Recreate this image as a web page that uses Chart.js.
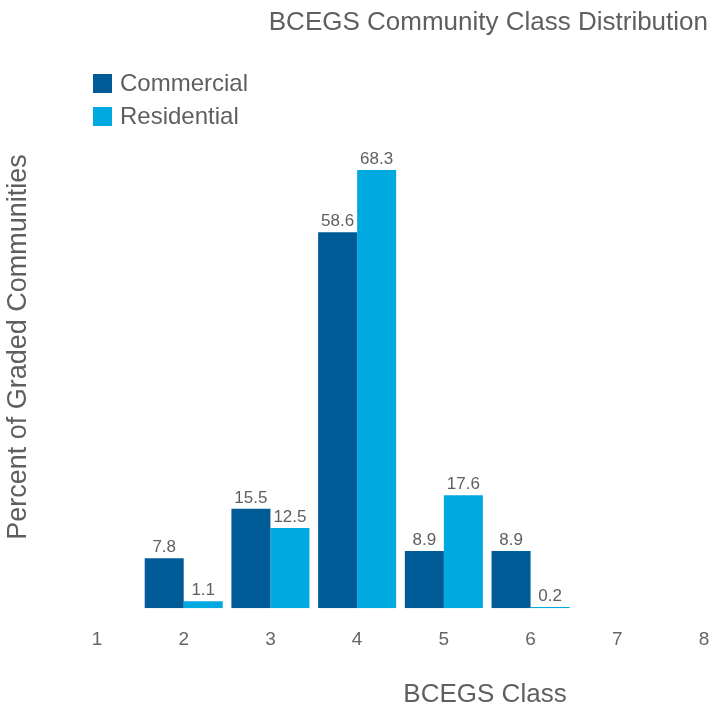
<!DOCTYPE html>
<html>
<head>
<meta charset="utf-8">
<script src="https://cdn.jsdelivr.net/npm/chart.js@4"></script>
<style>
  html, body { margin: 0; padding: 0; background: #fff; }
  #wrap { width: 711px; height: 708px; }
</style>
</head>
<body>
<div id="wrap"><canvas id="chart" width="711" height="708"></canvas></div>
<script>
const classes = ['1', '2', '3', '4', '5', '6', '7', '8'];
const commercial = [null, 7.8, 15.5, 58.6, 8.9, 8.9, null, null];
const residential = [null, 1.1, 12.5, 68.3, 17.6, 0.2, null, null];
const seriesNames = ['Commercial', 'Residential'];
const seriesColors = ['#005b97', '#00a9e0'];

const chartTitle = 'BCEGS Community Class Distribution';
const xTitle = 'BCEGS Class';
const yTitle = 'Percent of Graded Communities';

const FONT = '"Liberation Sans", Arial, sans-serif';
const TEXT = '#5f5f5f';

// titles, legend and value labels drawn on top of the chart
const decorations = {
  id: 'decorations',
  afterDatasetsDraw(chart) {
    const ctx = chart.ctx;
    ctx.save();
    ctx.fillStyle = TEXT;

    // value labels
    ctx.font = '17px ' + FONT;
    ctx.textAlign = 'center';
    ctx.textBaseline = 'bottom';
    chart.data.datasets.forEach((ds, i) => {
      chart.getDatasetMeta(i).data.forEach((bar, j) => {
        if (ds.data[j] == null) return;
        ctx.fillText(ds.data[j].toFixed(1), bar.x, bar.y - 2);
      });
    });

    // main title
    ctx.font = '26px ' + FONT;
    ctx.textAlign = 'right';
    ctx.textBaseline = 'middle';
    ctx.fillText(chartTitle, 708, 23);

    // x title
    ctx.textAlign = 'center';
    ctx.fillText(xTitle, 485, 695);

    // y title
    ctx.font = '27px ' + FONT;
    ctx.translate(19, 347);
    ctx.rotate(-Math.PI / 2);
    ctx.fillText(yTitle, 0, 0);
    ctx.setTransform(1, 0, 0, 1, 0, 0);

    // legend
    ctx.font = '24px ' + FONT;
    ctx.textAlign = 'left';
    seriesNames.forEach((name, i) => {
      const y = 74 + i * 33;
      ctx.fillStyle = seriesColors[i];
      ctx.fillRect(93, y, 19, 19);
      ctx.fillStyle = TEXT;
      ctx.fillText(name, 120, y + 10);
    });
    ctx.restore();
  }
};

new Chart(document.getElementById('chart'), {
  type: 'bar',
  data: {
    labels: classes,
    datasets: [
      { label: seriesNames[0], data: commercial, backgroundColor: seriesColors[0] },
      { label: seriesNames[1], data: residential, backgroundColor: seriesColors[1] }
    ]
  },
  options: {
    responsive: false,
    animation: false,
    layout: { padding: { left: 97, right: 7, top: 95, bottom: 45 } },
    datasets: {
      bar: { barPercentage: 1, categoryPercentage: 0.9 }
    },
    scales: {
      x: {
        offset: false,
        grid: { display: false },
        border: { display: false },
        ticks: { color: '#666', font: { family: FONT, size: 19 }, padding: 12, maxRotation: 0 },
        afterFit: scale => {
          scale.paddingLeft = 0;
          scale.paddingRight = 0;
        }
      },
      y: {
        display: false,
        min: 0,
        max: 80
      }
    },
    plugins: {
      legend: { display: false },
      title: { display: false },
      tooltip: { enabled: false }
    }
  },
  plugins: [decorations]
});
</script>
</body>
</html>
